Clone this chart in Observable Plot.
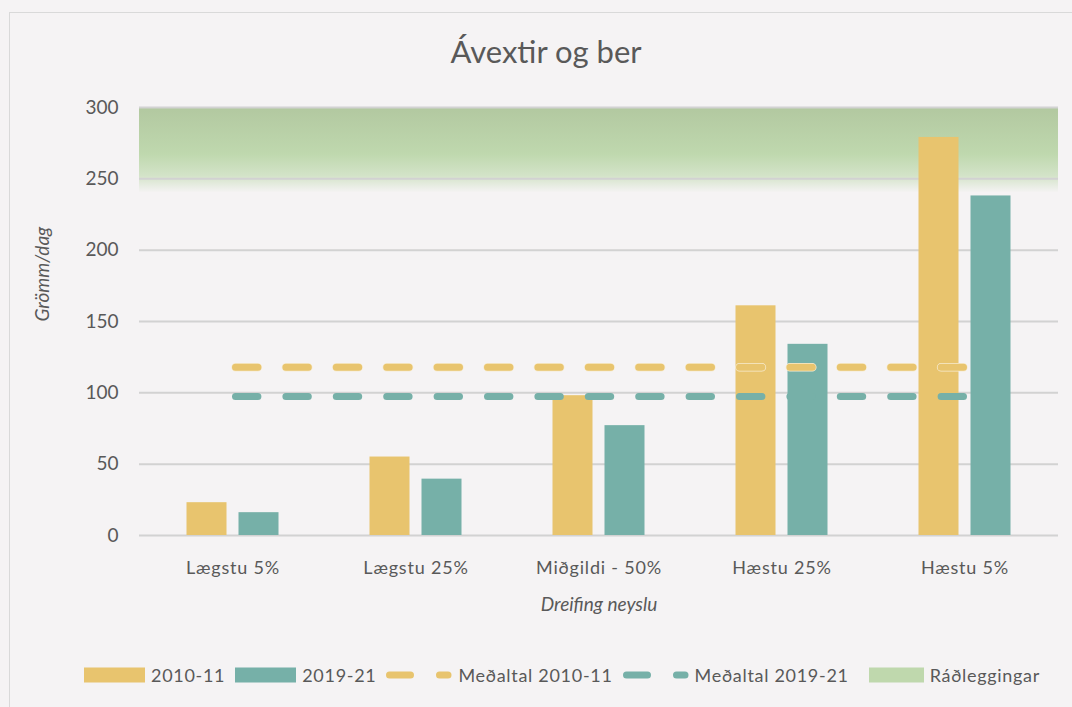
<!DOCTYPE html>
<html><head><meta charset="utf-8">
<script src="https://cdn.jsdelivr.net/npm/d3@7"></script>
<script src="https://cdn.jsdelivr.net/npm/@observablehq/plot@0.6"></script>
<style>
body{margin:0;background:#f5f3f4;width:1072px;height:707px;overflow:hidden;position:relative;font-family:Lato,"Noto Sans",sans-serif;color:#595959}
#frame{position:absolute;left:9px;top:12px;width:1100px;height:720px;border:1.5px solid #d9d9d9;box-sizing:border-box}
#title{position:absolute;top:32px;left:0;width:1092px;text-align:center;font-size:31px;}
#chart{position:absolute;left:0;top:90px}
#chart g[aria-label="x-axis tick label"] text{letter-spacing:0.8px}
#legend{position:absolute;top:664px;left:84px;display:flex;align-items:center;font-size:18px;white-space:nowrap;letter-spacing:0.7px}
.item{display:flex;align-items:center;margin-right:10px}
.item svg{margin-right:6px}
.item.wide{margin-right:20px}
</style></head><body>
<svg width="0" height="0" style="position:absolute"><defs>
<linearGradient id="grad" x1="0" y1="0" x2="0" y2="1">
<stop offset="0" stop-color="#b2c8a0"/>
<stop offset="0.55" stop-color="#bfd8ae"/>
<stop offset="0.8" stop-color="#d3e3c8"/>
<stop offset="1" stop-color="#f5f3f4"/>
</linearGradient></defs></svg>
<div id="frame"></div>
<div id="title">Ávextir og ber</div>
<div id="chart"></div>
<div id="legend"></div>
<script>
const categories = ["Lægstu 5%", "Lægstu 25%", "Miðgildi - 50%", "Hæstu 25%", "Hæstu 5%"];
const seriesNames = ["2010-11", "2019-21"];
const values2010 = [23, 55, 98, 161, 279];
const values2019 = [16, 39.5, 77, 134, 238];
const meanNames = ["Meðaltal 2010-11", "Meðaltal 2019-21"];
const means = [118, 97.5];
const recommendation = [240, 300];
const recommendationName = "Ráðleggingar";
const yTicks = [0, 50, 100, 150, 200, 250, 300];
const yLabel = "Grömm/dag";
const xLabel = "Dreifing neyslu";
const colors = ["#e8c46e", "#76b0a8"];
const green = "#bfd8ad";

const rows2010 = categories.map((c, i) => ({category: c, value: values2010[i]}));
const rows2019 = categories.map((c, i) => ({category: c, value: values2019[i]}));

const dash = {strokeWidth: 7, strokeDasharray: "22.4 28", strokeDashoffset: -2.5, strokeLinecap: "round"};

const chart = Plot.plot({
  width: 1072,
  height: 540,
  marginTop: 17,
  marginBottom: 95,
  marginLeft: 139,
  marginRight: 14,
  style: {background: "transparent", fontFamily: "Lato, 'Noto Sans', sans-serif", color: "#595959", fontSize: "19px"},
  x: {domain: categories, padding: 0},
  y: {domain: [0, 300]},
  marks: [
    Plot.rect([recommendation], {y1: d => d[0], y2: d => d[1], fill: "url(#grad)"}),
    Plot.gridY(yTicks, {stroke: "#d2d2d2", strokeOpacity: 1, strokeWidth: 2}),
    Plot.axisY(yTicks, {tickSize: 0, tickPadding: 21, fontSize: 19, label: null}),
    Plot.axisX({tickSize: 0, tickPadding: 26, fontSize: 18, label: null}),
    Plot.barY(rows2010, {x: "category", y: "value", fill: colors[0], insetLeft: 45.5, insetRight: 97.5}),
    Plot.barY(rows2019, {x: "category", y: "value", fill: colors[1], insetLeft: 97.5, insetRight: 45.5}),
    Plot.lineY(categories, {x: d => d, y: () => means[0], stroke: "#f7ecd2", ...dash, strokeWidth: 8.5}),
    Plot.lineY(categories, {x: d => d, y: () => means[0], stroke: colors[0], ...dash}),
    Plot.lineY(categories, {x: d => d, y: () => means[1], stroke: colors[1], ...dash}),
    Plot.text([yLabel], {text: d => d, frameAnchor: "left", dx: -97, rotate: -90, fontStyle: "italic", fontSize: 19}),
    Plot.text([xLabel], {text: d => d, frameAnchor: "bottom", dy: 75, fontStyle: "italic", fontSize: 19})
  ]
});
document.getElementById("chart").appendChild(chart);

// legend
const legend = document.getElementById("legend");
function rectSwatch(color, w) {
  return `<svg width="${w}" height="16"><rect x="0" y="0.5" width="${w}" height="15" fill="${color}"/></svg>`;
}
function dashSwatch(color) {
  return `<svg width="66" height="16"><line x1="3.5" x2="62" y1="8" y2="8" stroke="${color}" stroke-width="7" stroke-linecap="round" stroke-dasharray="21 29"/></svg>`;
}
const items = [
  [rectSwatch(colors[0], 61), seriesNames[0], ""],
  [rectSwatch(colors[1], 61), seriesNames[1], ""],
  [dashSwatch(colors[0]), meanNames[0], ""],
  [dashSwatch(colors[1]), meanNames[1], "wide"],
  [rectSwatch(green, 55), recommendationName, ""]
];
legend.innerHTML = items.map(([s, t, c]) => `<div class="item ${c}">${s}<span>${t}</span></div>`).join("");
</script>
</body></html>
